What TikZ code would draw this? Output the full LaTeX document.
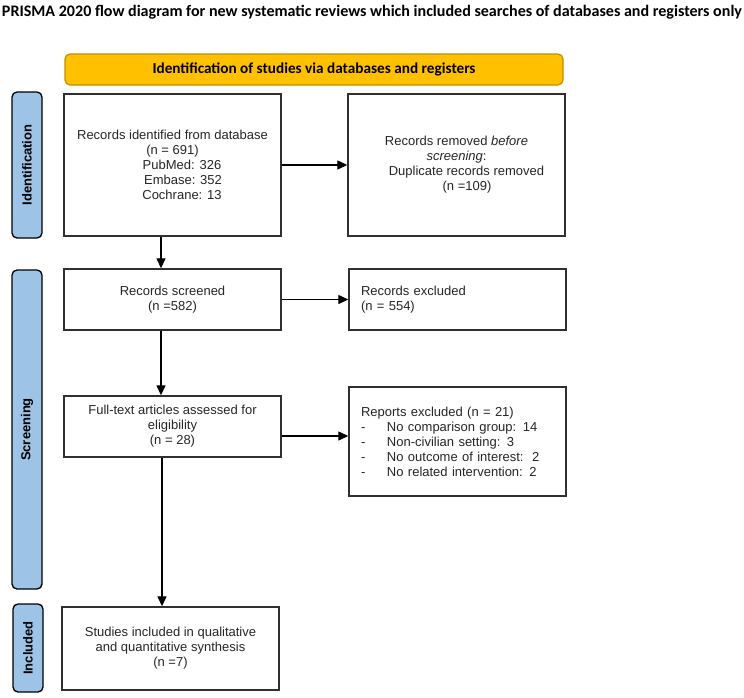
\documentclass[tikz,border=0pt]{standalone}
\usepackage{fontspec}
\setmainfont{Liberation Sans}
\newfontfamily\calibri{Carlito}
\usetikzlibrary{arrows.meta,calc}
\definecolor{hdrfill}{HTML}{FFC000}
\definecolor{hdrdraw}{HTML}{BF9000}
\definecolor{sidefill}{HTML}{9DC3E6}
\definecolor{boxdraw}{HTML}{303030}
\begin{document}
\begin{tikzpicture}[x=1pt,y=1pt,
  box/.style={draw=boxdraw,line width=1.4pt,fill=white,minimum width=217pt,inner sep=0pt,
    font=\fontsize{13}{15}\selectfont,text=black!85,align=center},
  lbox/.style={box,align=left,text width=193pt,inner xsep=12pt},
  side/.style={draw=black,line width=1.3pt,fill=sidefill,rounded corners=5pt,minimum width=30pt,
    inner sep=0pt,font=\fontsize{13}{15}\selectfont\bfseries},
  arr/.style={line width=1.3pt,-{Triangle[length=10pt,width=9pt]}}]
\useasboundingbox (0,0) rectangle (744,-697);
\node (title) at (372,-12) {\resizebox{740pt}{!}{\calibri\bfseries PRISMA 2020 flow diagram for new systematic reviews which included searches of databases and registers only}};
\node[draw=hdrdraw,line width=1.2pt,fill=hdrfill,rounded corners=5pt,minimum width=498pt,minimum height=31pt,inner sep=0pt] (hdr) at (314,-69.5)
  {\resizebox{323pt}{!}{\calibri\bfseries Identification of studies via databases and registers}};
\node[side,minimum height=146pt] (sid) at (27,-165) {\rotatebox{90}{Identification}};
\node[side,minimum height=319pt] (sscr) at (27,-429.5) {\rotatebox{90}{Screening}};
\node[side,minimum height=88pt] (sinc) at (28,-648) {\rotatebox{90}{Included}};
\node[box,minimum height=142pt] (ident) at (172.5,-165)
  {Records identified from database\\(n = 691)\\\hspace*{19pt}PubMed: 326\\\hspace*{21pt}Embase: 352\\\hspace*{19pt}Cochrane: 13};
\node[box,minimum height=142pt] (removed) at (456.5,-165)
  {Records removed \textit{before}\\\textit{screening}:\\\hspace*{20pt}Duplicate records removed\\\hspace*{21pt}(n =109)};
\node[box,minimum height=61pt] (screened) at (172.5,-299.5) {Records screened\\(n =582)};
\node[lbox,minimum height=61pt] (excluded) at (457.5,-299.5) {Records excluded\\(n = 554)};
\node[box,minimum height=61pt] (fulltext) at (172.5,-426.5) {Full-text articles assessed for\\eligibility\\(n = 28)};
\node[lbox,minimum height=109pt] (reports) at (457.5,-441.5)
  {Reports excluded (n = 21)\\
   \makebox[26pt][l]{-}No comparison group: 14\\
   \makebox[26pt][l]{-}Non-civilian setting: 3\\
   \makebox[26pt][l]{-}No outcome of interest:\ \ 2\\
   \makebox[26pt][l]{-}No related intervention: 2};
\node[box,minimum height=83pt] (studies) at (170.5,-648.5)
  {Studies included in qualitative\\and quantitative synthesis\\(n =7)};
\draw[arr] (ident.east) -- (removed.west);
\draw[arr] (screened.east) -- (excluded.west);
\draw[arr] ([yshift=-9.5pt]fulltext.east) -- ([yshift=-9.5pt]fulltext.east -| reports.west);
\draw[arr] ([xshift=-11.5pt]ident.south) -- ([xshift=-11.5pt]screened.north);
\draw[arr] ([xshift=-11.5pt]screened.south) -- ([xshift=-11.5pt]fulltext.north);
\draw[arr] ([xshift=-10.5pt]fulltext.south) -- ([xshift=-10.5pt]fulltext.south |- studies.north);
\end{tikzpicture}
\end{document}
